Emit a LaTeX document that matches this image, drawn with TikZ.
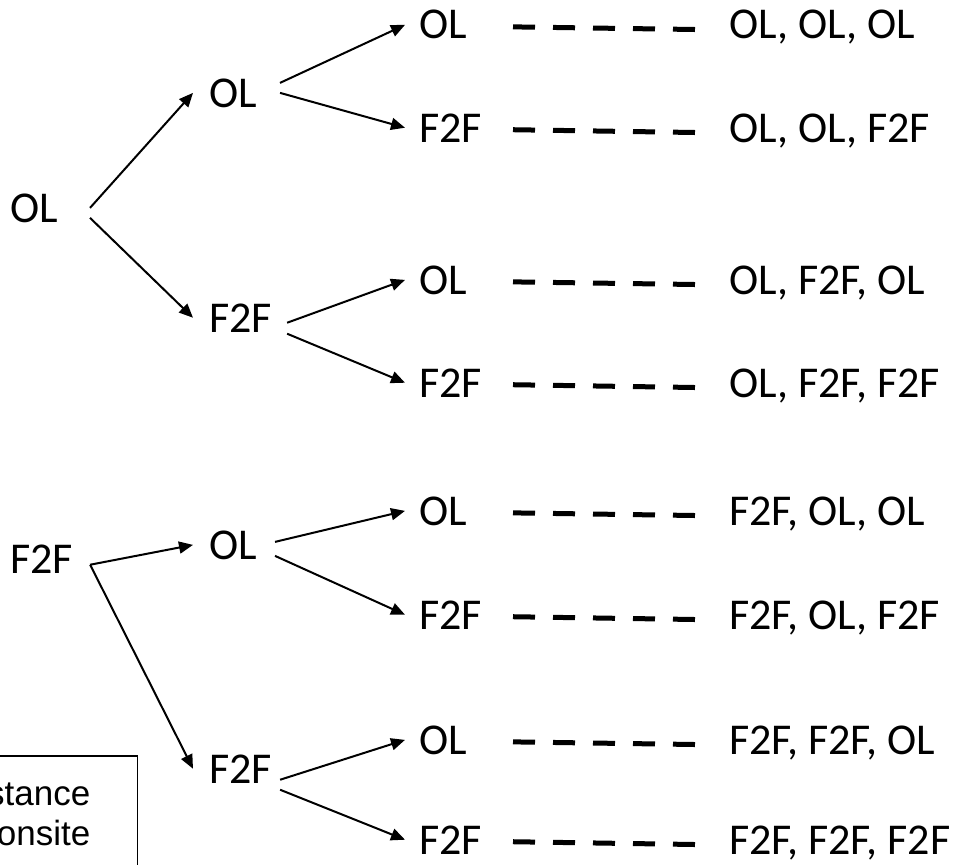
\documentclass[tikz,border=0pt]{standalone}
\usepackage{fontspec}
\setmainfont{Carlito}
\newfontfamily\notefont{Liberation Sans}
\usetikzlibrary{arrows.meta}

\begin{document}
\begin{tikzpicture}[x=1pt,y=-1pt,
  lbl/.style={inner sep=0pt,anchor=base west,font=\fontsize{44}{50}\selectfont},
  arr/.style={line width=2pt,-{Triangle[length=14pt,width=12pt]}},
  dashline/.style={line width=5pt,dash pattern=on 22pt off 18pt},
  notebox/.style={draw,line width=1.5pt,align=right,text width=200pt,inner xsep=47pt,inner ysep=27pt,font=\notefont\fontsize{35}{40}\selectfont}]
\useasboundingbox(0,0)rectangle(957,864);
\node[lbl](r1)at(10,222){OL};
\node[lbl](r2)at(10,573){F2F};
\node[lbl](a)at(209,107){OL};
\node[lbl](b)at(209,332){F2F};
\node[lbl](c)at(209,559){OL};
\node[lbl](d)at(209,783){F2F};
\node[lbl](a1)at(419,39){OL};
\node[lbl](a2)at(419,142){F2F};
\node[lbl](b1)at(419,294){OL};
\node[lbl](b2)at(419,397){F2F};
\node[lbl](c1)at(419,525){OL};
\node[lbl](c2)at(419,629){F2F};
\node[lbl](d1)at(419,754){OL};
\node[lbl](d2)at(419,854){F2F};
\node[lbl](oa1)at(729,39){OL, OL, OL};
\node[lbl](oa2)at(729,142){OL, OL, F2F};
\node[lbl](ob1)at(729,294){OL, F2F, OL};
\node[lbl](ob2)at(729,397){OL, F2F, F2F};
\node[lbl](oc1)at(729,525){F2F, OL, OL};
\node[lbl](oc2)at(729,629){F2F, OL, F2F};
\node[lbl](od1)at(729,754){F2F, F2F, OL};
\node[lbl](od2)at(729,854){F2F, F2F, F2F};
\draw[arr]([xshift=32pt]r1.east)--([xshift=-16pt]a.west);
\draw[arr]([xshift=32pt,yshift=-10pt]r1.east)--([xshift=-16pt]b.west);
\draw[arr]([xshift=17pt,yshift=-6pt]r2.east)--([xshift=-16pt]c.west);
\draw[arr]([xshift=17pt,yshift=-6pt]r2.east)--([xshift=-16pt]d.west);
\draw[arr]([xshift=23pt,yshift=10pt]a.east)--([xshift=-14pt]a1.west);
\draw[arr]([xshift=23pt]a.east)--([xshift=-14pt]a2.west);
\draw[arr]([xshift=15pt,yshift=-5pt]b.east)--([xshift=-14pt]b1.west);
\draw[arr]([xshift=15pt,yshift=-16pt]b.east)--([xshift=-14pt]b2.west);
\draw[arr]([xshift=18pt,yshift=3pt]c.east)--([xshift=-14pt]c1.west);
\draw[arr]([xshift=18pt,yshift=-11pt]c.east)--([xshift=-14pt]c2.west);
\draw[arr]([xshift=8pt,yshift=-11pt]d.east)--([xshift=-14pt]d1.west);
\draw[arr]([xshift=8pt,yshift=-21pt]d.east)--([xshift=-14pt]d2.west);
\foreach \n in {a1,a2,b1,b2,c1,c2,d1,d2}
  \draw[dashline]([xshift=94pt,yshift=-2pt]\n.west)--([xshift=-32pt,yshift=-2pt]o\n.west);
\node[notebox,anchor=north east](note)at(138,755){stance\\onsite};
\end{tikzpicture}
\end{document}
